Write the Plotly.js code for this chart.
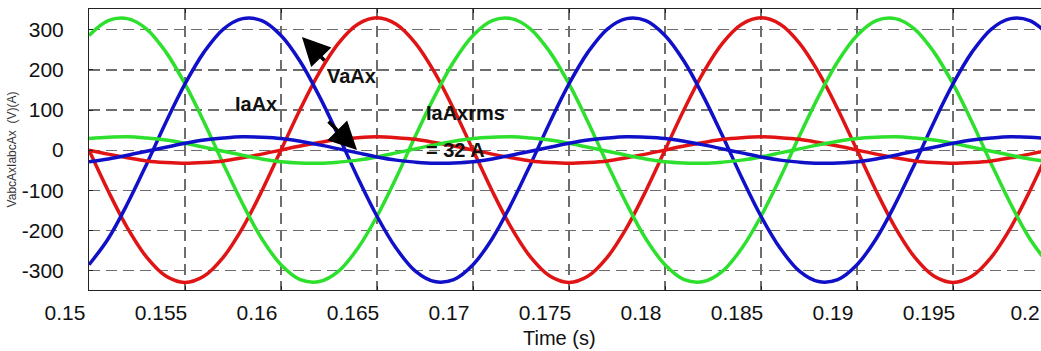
<!DOCTYPE html>
<html>
<head>
<meta charset="utf-8">
<script src="https://cdn.plot.ly/plotly-3.0.1.min.js"></script>
<style>
html,body{margin:0;padding:0;background:#fff;overflow:hidden;}
#wrap{width:1041px;height:351px;overflow:hidden;position:relative;}
#chart{width:1049px;height:351px;}
</style>
</head>
<body>
<div id="wrap"><div id="chart"></div></div>
<script>
// time samples (s)
const time = [0.150,0.151,0.152,0.153,0.154,0.155,0.156,0.157,0.158,0.159,
              0.160,0.161,0.162,0.163,0.164,0.165,0.166,0.167,0.168,0.169,
              0.170,0.171,0.172,0.173,0.174,0.175,0.176,0.177,0.178,0.179,
              0.180,0.181,0.182,0.183,0.184,0.185,0.186,0.187,0.188,0.189,
              0.190,0.191,0.192,0.193,0.194,0.195,0.196,0.197,0.198,0.199,0.200];
// phase voltages (V)
const vaRed = [0,-102,-194,-267,-314,-330,-314,-267,-194,-102,
               0,102,194,267,314,330,314,267,194,102,
               0,-102,-194,-267,-314,-330,-314,-267,-194,-102,
               0,102,194,267,314,330,314,267,194,102,
               0,-102,-194,-267,-314,-330,-314,-267,-194,-102,0];
const vbGreen = [286,323,328,302,245,165,69,-35,-134,-221,
                 -286,-323,-328,-302,-245,-165,-69,35,134,221,
                 286,323,328,302,245,165,69,-35,-134,-221,
                 -286,-323,-328,-302,-245,-165,-69,35,134,221,
                 286,323,328,302,245,165,69,-35,-134,-221,-286];
const vcBlue = [-286,-221,-134,-35,69,165,245,302,328,323,
                286,221,134,35,-69,-165,-245,-302,-328,-323,
                -286,-221,-134,-35,69,165,245,302,328,323,
                286,221,134,35,-69,-165,-245,-302,-328,-323,
                -286,-221,-134,-35,69,165,245,302,328,323,286];
// phase currents (A)
const iaRed = [0,-10,-19,-27,-31,-33,-31,-27,-19,-10,
               0,10,19,27,31,33,31,27,19,10,
               0,-10,-19,-27,-31,-33,-31,-27,-19,-10,
               0,10,19,27,31,33,31,27,19,10,
               0,-10,-19,-27,-31,-33,-31,-27,-19,-10,0];
const ibGreen = [29,32,33,30,25,17,7,-3,-13,-22,
                 -29,-32,-33,-30,-25,-17,-7,3,13,22,
                 29,32,33,30,25,17,7,-3,-13,-22,
                 -29,-32,-33,-30,-25,-17,-7,3,13,22,
                 29,32,33,30,25,17,7,-3,-13,-22,-29];
const icBlue = [-29,-22,-13,-3,7,17,25,30,33,32,
                29,22,13,3,-7,-17,-25,-30,-33,-32,
                -29,-22,-13,-3,7,17,25,30,33,32,
                29,22,13,3,-7,-17,-25,-30,-33,-32,
                -29,-22,-13,-3,7,17,25,30,33,32,29];
// ticks
const xTickVals = [0.15,0.155,0.16,0.165,0.17,0.175,0.18,0.185,0.19,0.195,0.2];
const xTickText = ['0.15','0.155','0.16','0.165','0.17','0.175','0.18','0.185','0.19','0.195','0.2'];
const yTickVals = [-300,-200,-100,0,100,200,300];
const yTickText = ['-300','-200','-100','0','100','200','300'];

const RED = '#e01414', GREEN = '#2ee02e', BLUE = '#1010c8';
function tr(y, c){ return {x: time, y: y, type:'scatter', mode:'lines',
  line:{color:c, width:3.5, shape:'spline', smoothing:1}, hoverinfo:'skip', showlegend:false}; }

const data = [tr(vaRed,RED), tr(vbGreen,GREEN), tr(vcBlue,BLUE),
              tr(iaRed,RED), tr(ibGreen,GREEN), tr(icBlue,BLUE)];

const FONT = 'Liberation Sans, Arial, sans-serif';
const axisCommon = {showgrid:true, gridcolor:'#6e6e6e', gridwidth:1.2, griddash:'11px,6px',
  zeroline:false, showline:true, linecolor:'#222', linewidth:1, mirror:'ticks',
  ticks:'inside', ticklen:4, tickcolor:'#222', tickfont:{family:FONT, size:21, color:'#111'}};

const layout = {
  width:1049, height:351,
  margin:{l:89, r:0, t:9, b:61},
  paper_bgcolor:'#fff', plot_bgcolor:'#fff',
  font:{family:FONT},
  xaxis: Object.assign({}, axisCommon, {range:[0.15,0.2], tickmode:'array',
    tickvals:xTickVals, ticktext:xTickText, ticklabelshift:-24, ticklabelstandoff:4}),
  yaxis: Object.assign({}, axisCommon, {range:[-349,352], tickmode:'array',
    tickvals:yTickVals, ticktext:yTickText, ticklabelstandoff:20,
    title:{text:'VabcAxIabcAx  (V)(A)', font:{family:FONT, size:12, color:'#333'}, standoff:2}}),
  annotations:[
    {xref:'paper', yref:'paper', x:0.5, y:0, yshift:-35, xshift:-10, showarrow:false,
     text:'Time (s)', font:{family:FONT, size:20, color:'#111'}, yanchor:'top'},
    {x:0.16367, y:185, text:'<b>VaAx</b>', showarrow:false, font:{family:FONT, size:20, color:'#111'}},
    {x:0.15872, y:115, text:'<b>IaAx</b>', showarrow:false, font:{family:FONT, size:20, color:'#111'}},
    {x:0.16745, y:92, text:'<b>IaAxrms</b>', xanchor:'left', showarrow:false, font:{family:FONT, size:20, color:'#111'}},
    {x:0.16745, y:0, text:'<b>= 32 A</b>', xanchor:'left', showarrow:false, font:{family:FONT, size:20, color:'#111'}},
    {x:0.16109, y:282, text:'', showarrow:true, ax:24, ay:25, arrowhead:2, arrowsize:1.6, arrowwidth:3.5, arrowcolor:'#000', standoff:0},
    {x:0.16396, y:0, text:'', showarrow:true, ax:-30, ay:-30, arrowhead:2, arrowsize:1.6, arrowwidth:3.5, arrowcolor:'#000', standoff:0}
  ]
};
Plotly.newPlot('chart', data, layout, {displayModeBar:false, staticPlot:true});
</script>
</body>
</html>
